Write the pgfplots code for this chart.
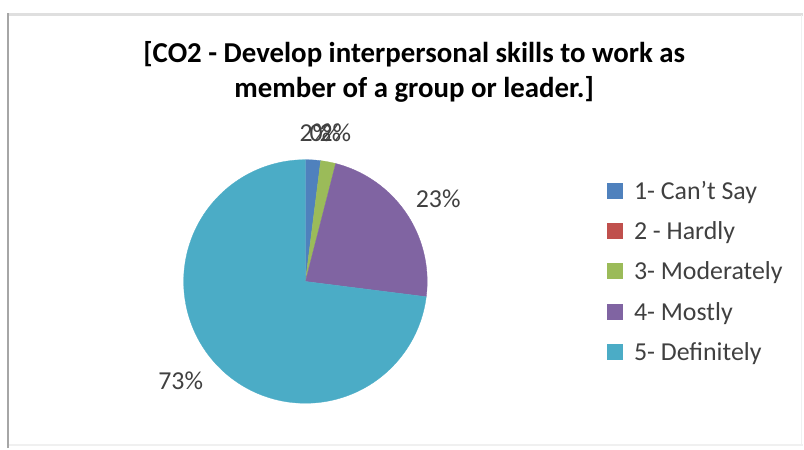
\documentclass[border=0pt]{standalone}
\usepackage{pgfplots}
\usepackage{pgfplotstable}
\pgfplotsset{compat=1.18}
\usepackage{fontspec}
\setmainfont{Carlito}
\definecolor{cBlue}{HTML}{4F81BD}
\definecolor{cRed}{HTML}{C0504D}
\definecolor{cGreen}{HTML}{9BBB59}
\definecolor{cPurple}{HTML}{8064A2}
\definecolor{cAqua}{HTML}{4BACC6}
\definecolor{txt}{HTML}{404040}

\pgfplotstableread{
idx value
1 2
2 0
3 2
4 23
5 73
}\piedata

\begin{document}%
\begin{tikzpicture}
\pgfplotstablegetelem{0}{value}\of\piedata \let\vA\pgfplotsretval
\pgfplotstablegetelem{1}{value}\of\piedata \let\vB\pgfplotsretval
\pgfplotstablegetelem{2}{value}\of\piedata \let\vC\pgfplotsretval
\pgfplotstablegetelem{3}{value}\of\piedata \let\vD\pgfplotsretval
\pgfplotstablegetelem{4}{value}\of\piedata \let\vE\pgfplotsretval
\pgfmathsetmacro\aA{90}
\pgfmathsetmacro\aB{\aA-3.6*\vA}
\pgfmathsetmacro\aC{\aB-3.6*\vB}
\pgfmathsetmacro\aD{\aC-3.6*\vC}
\pgfmathsetmacro\aE{\aD-3.6*\vD}
\pgfmathsetmacro\aF{\aE-3.6*\vE}
\def\cx{306}\def\cy{167}\def\rr{122}
\begin{axis}[scale only axis, width=804bp, height=449bp,
  xmin=0, xmax=804, ymin=0, ymax=449, hide axis, clip=false]
% bounding
\addplot[draw=none] coordinates {(0,0) (804,449)};
% frame
\addplot[color=gray!25, line width=3bp] coordinates {(8,434) (804,434)};
\addplot[color=gray!12, line width=1.5bp] coordinates {(8,3) (804,3)};
\addplot[color=gray!12, line width=1.5bp] coordinates {(803,3) (803,434)};
\addplot[color=gray!70, line width=2bp] coordinates {(8,0) (8,436)};
% pie slices
\addplot[fill=cBlue, draw=cBlue, line width=0.3bp, domain=\aB:\aA, samples=10, variable=\t]
  ({\cx+\rr*cos(\t)},{\cy+\rr*sin(\t)}) -- (axis cs:\cx,\cy) -- cycle;
\addplot[fill=cGreen, draw=cGreen, line width=0.3bp, domain=\aD:\aC, samples=10, variable=\t]
  ({\cx+\rr*cos(\t)},{\cy+\rr*sin(\t)}) -- (axis cs:\cx,\cy) -- cycle;
\addplot[fill=cPurple, draw=cPurple, line width=0.3bp, domain=\aE:\aD, samples=60, variable=\t]
  ({\cx+\rr*cos(\t)},{\cy+\rr*sin(\t)}) -- (axis cs:\cx,\cy) -- cycle;
\addplot[fill=cAqua, draw=cAqua, line width=0.3bp, domain=\aF:\aE, samples=150, variable=\t]
  ({\cx+\rr*cos(\t)},{\cy+\rr*sin(\t)}) -- (axis cs:\cx,\cy) -- cycle;
% title
\node[anchor=base, font=\fontsize{29}{35}\selectfont\bfseries, text=black, inner sep=0pt]
  at (axis cs:415,386) {[CO2 - Develop interpersonal skills to work as};
\node[anchor=base, font=\fontsize{29}{35}\selectfont\bfseries, text=black, inner sep=0pt]
  at (axis cs:415,351) {member of a group or leader.]};
% data labels
\node[anchor=base, font=\fontsize{26}{31}\selectfont, text=txt, inner sep=0pt] at (axis cs:316,307) {2\%};
\node[anchor=base, font=\fontsize{26}{31}\selectfont, text=txt, inner sep=0pt] at (axis cs:326,307) {0\%};
\node[anchor=base, font=\fontsize{26}{31}\selectfont, text=txt, inner sep=0pt] at (axis cs:336,307) {2\%};
\node[anchor=base, font=\fontsize{26}{31}\selectfont, text=txt, inner sep=0pt] at (axis cs:439,241) {23\%};
\node[anchor=base, font=\fontsize{26}{31}\selectfont, text=txt, inner sep=0pt] at (axis cs:181,59) {73\%};
% legend
\addplot[only marks, mark=square*, mark size=7.5bp, color=cBlue] coordinates {(616,258)};
\addplot[only marks, mark=square*, mark size=7.5bp, color=cRed] coordinates {(616,218)};
\addplot[only marks, mark=square*, mark size=7.5bp, color=cGreen] coordinates {(616,178)};
\addplot[only marks, mark=square*, mark size=7.5bp, color=cPurple] coordinates {(616,137)};
\addplot[only marks, mark=square*, mark size=7.5bp, color=cAqua] coordinates {(616,97)};
\node[anchor=base west, font=\fontsize{26}{31}\selectfont, text=txt, inner sep=0pt] at (axis cs:635,249) {1- Can’t Say};
\node[anchor=base west, font=\fontsize{26}{31}\selectfont, text=txt, inner sep=0pt] at (axis cs:635,209) {2 - Hardly};
\node[anchor=base west, font=\fontsize{26}{31}\selectfont, text=txt, inner sep=0pt] at (axis cs:635,169) {3- Moderately};
\node[anchor=base west, font=\fontsize{26}{31}\selectfont, text=txt, inner sep=0pt] at (axis cs:635,128) {4- Mostly};
\node[anchor=base west, font=\fontsize{26}{31}\selectfont, text=txt, inner sep=0pt] at (axis cs:635,88) {5- Definitely};
\end{axis}
\end{tikzpicture}%
\end{document}
